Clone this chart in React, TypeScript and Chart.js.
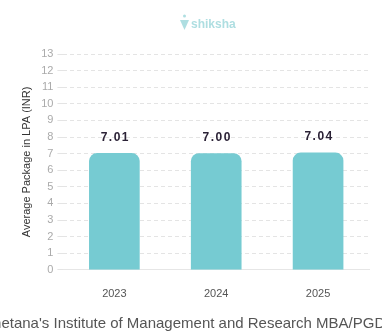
import React, { useEffect, useRef } from "react";
import { Chart, registerables } from "chart.js";

Chart.register(...registerables);

const categories = ["2023", "2024", "2025"];
const values = [7.01, 7.0, 7.04];
const valueLabels = ["7.01", "7.00", "7.04"];
const yTitle = "Average Package in LPA (INR)";
const xTitle = "Chetana's Institute of Management and Research MBA/PGDM";

const FONT = "'Liberation Sans', Arial, sans-serif";

const labelPlugin = {
  id: "valueLabels",
  afterDatasetsDraw(chart: any) {
    const ctx = chart.ctx;
    const meta = chart.getDatasetMeta(0);
    ctx.save();
    ctx.font = "bold 12px " + FONT;
    ctx.fillStyle = "#2b2236";
    ctx.textAlign = "center";
    ctx.textBaseline = "middle";
    try { (ctx as any).letterSpacing = "1.5px"; } catch (e) {}
    meta.data.forEach((bar: any, i: number) => {
      ctx.fillText(valueLabels[i], bar.x + 1, bar.y - 16);
    });
    ctx.restore();
  },
};

const titlePlugin = {
  id: "xTitle",
  afterDraw(chart: any) {
    const ctx = chart.ctx;
    ctx.save();
    ctx.font = "15px " + FONT;
    ctx.fillStyle = "#555";
    ctx.textAlign = "center";
    ctx.textBaseline = "alphabetic";
    ctx.fillText(xTitle, 190, 328);
    ctx.restore();
  },
};

const logoPlugin = {
  id: "logo",
  afterDraw(chart: any) {
    const ctx = chart.ctx;
    ctx.save();
    ctx.globalAlpha = 0.55;
    ctx.fillStyle = "#6cc3c9";
    ctx.font = "bold 12px " + FONT;
    ctx.textAlign = "left";
    ctx.textBaseline = "middle";
    ctx.fillText("shiksha", 191, 25);
    ctx.beginPath();
    ctx.moveTo(180, 20);
    ctx.lineTo(189, 20);
    ctx.lineTo(184.5, 30);
    ctx.closePath();
    ctx.fill();
    ctx.beginPath();
    ctx.arc(184.5, 16, 1.5, 0, Math.PI * 2);
    ctx.fill();
    ctx.restore();
  },
};

export default function App() {
  const ref = useRef<HTMLCanvasElement>(null);
  useEffect(() => {
    const chart = new Chart(ref.current!, {
      type: "bar",
      data: {
        labels: categories,
        datasets: [
          {
            data: values,
            backgroundColor: "#76cbd2",
            borderRadius: 8,
            barThickness: 50,
          },
        ],
      },
      options: {
        animation: false,
        responsive: false,
        maintainAspectRatio: false,
        layout: { padding: { top: 54, right: 13, left: 16, bottom: 26 } },
        plugins: { legend: { display: false }, tooltip: { enabled: false } },
        scales: {
          x: {
            grid: { display: false },
            border: { display: true, color: "#e6e6e6" },
            ticks: { color: "#555", font: { size: 11, family: FONT }, padding: 9.5, autoSkip: false },
          },
          y: {
            min: 0,
            max: 13,
            ticks: { stepSize: 1, color: "#aaa", font: { size: 11, family: FONT }, padding: 4, autoSkip: false },
            grid: { color: "#e4e4e4", drawTicks: true, tickLength: 6 },
            border: { display: false, dash: [4, 3] },
            title: {
              display: true,
              text: yTitle,
              color: "#333",
              font: { size: 11, family: FONT },
            },
          },
        },
      },
      plugins: [labelPlugin, titlePlugin, logoPlugin],
    });
    return () => chart.destroy();
  }, []);
  return (
    <div style={{ position: "absolute", left: 0, top: 0, width: 382, height: 336, background: "#fff" }}>
      <canvas ref={ref} width={382} height={336} />
    </div>
  );
}
